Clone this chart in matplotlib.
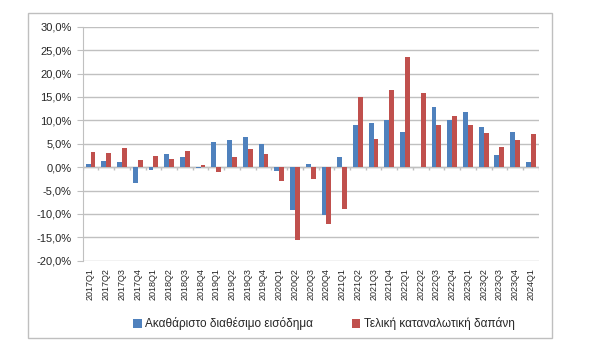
import matplotlib
matplotlib.use('Agg')
import matplotlib.pyplot as plt
from matplotlib.patches import Rectangle
from matplotlib.ticker import FuncFormatter
import numpy as np

# Quarterly labels and the two series (% change)
quarters = ['2017Q1', '2017Q2', '2017Q3', '2017Q4',
            '2018Q1', '2018Q2', '2018Q3', '2018Q4',
            '2019Q1', '2019Q2', '2019Q3', '2019Q4',
            '2020Q1', '2020Q2', '2020Q3', '2020Q4',
            '2021Q1', '2021Q2', '2021Q3', '2021Q4',
            '2022Q1', '2022Q2', '2022Q3', '2022Q4',
            '2023Q1', '2023Q2', '2023Q3', '2023Q4',
            '2024Q1']
income = [0.6, 1.4, 1.1, -3.4,
          -0.6, 2.7, 2.1, -0.1,
          5.4, 5.8, 6.4, 4.9,
          -0.8, -9.1, 0.6, -10.2,
          2.1, 9.0, 9.4, 10.1,
          7.4, 0.0, 12.9, 10.1,
          11.7, 8.6, 2.6, 7.5,
          1.1]
consumption = [3.2, 3.0, 4.1, 1.5,
               2.4, 1.7, 3.4, 0.4,
               -1.1, 2.1, 3.9, 2.8,
               -2.9, -15.6, -2.5, -12.1,
               -8.9, 15.0, 6.0, 16.4,
               23.6, 15.8, 9.1, 10.9,
               9.1, 7.3, 4.4, 5.9,
               7.0]
income_label = 'Ακαθάριστο διαθέσιμο εισόδημα'
consumption_label = 'Τελική καταναλωτική δαπάνη'

plt.rcParams['font.family'] = ['Liberation Sans', 'DejaVu Sans']
text_color = '#262626'
grid_color = '#C0C0C0'

fig = plt.figure(figsize=(6, 3.6), dpi=100)
ax = fig.add_axes([0.1378, 0.2758, 0.76, 0.65])

x = np.arange(len(quarters))
w = 0.31
ax.bar(x - w / 2, income, w, color='#4F81BD', label=income_label, zorder=3)
ax.bar(x + w / 2, consumption, w, color='#C0504D', label=consumption_label, zorder=3)

# Axis limits and grid
ax.set_xlim(-0.5, len(quarters) - 0.5)
ax.set_ylim(-20, 30)
ax.set_yticks(np.arange(-20, 31, 5))
ax.yaxis.set_major_formatter(FuncFormatter(lambda v, p: f'{v:.1f}%'.replace('.', ',')))
ax.grid(axis='y', color=grid_color, linewidth=1, zorder=0)

# Category axis line at zero with ticks between categories
ax.axhline(0, color=grid_color, linewidth=1, zorder=2)
ax.vlines(np.arange(len(quarters) + 1) - 0.5, 0, -0.7, color=grid_color, linewidth=1, zorder=2)

ax.set_xticks(x)
ax.set_xticklabels(quarters, rotation=90, fontsize=6.5, color=text_color)
ax.tick_params(axis='x', length=0, pad=5)
ax.tick_params(axis='y', labelsize=8, labelcolor=text_color, length=4, color=grid_color, pad=4)

for s in ['top', 'right', 'bottom']:
    ax.spines[s].set_visible(False)
ax.spines['left'].set_color(grid_color)

# Legend under the chart
fig.legend(loc='center', bbox_to_anchor=(0.54, 0.1), ncol=2, frameon=False,
           fontsize=8.5, handlelength=0.7, handleheight=0.7, handletextpad=0.3,
           columnspacing=3.3, labelcolor=text_color)

# Outer chart frame
fig.patches.append(Rectangle((27.7 / 600, 22.3 / 360), 524.3 / 600, 325 / 360,
                             transform=fig.transFigure, fill=False,
                             edgecolor='#BFBFBF', linewidth=1))

fig.savefig('out.png', dpi=100)
plt.close(fig)
